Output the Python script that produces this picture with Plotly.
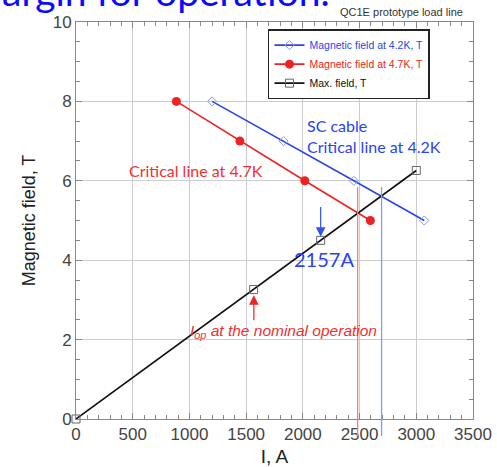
import plotly.graph_objects as go

# Data
cur_42 = [1200, 1830, 2450, 3070]
field_42 = [8, 7, 6, 5]
cur_47 = [885, 1445, 2017, 2595]
field_47 = [8, 7, 6, 5]
cur_max = [0, 1566, 2157, 3000]
field_max = [0, 3.26, 4.5, 6.26]
iop_42 = 2694
iop_47 = 2483
x_ticks = [0, 500, 1000, 1500, 2000, 2500, 3000, 3500]
y_ticks = [0, 2, 4, 6, 8, 10]

BLUE = "#2b45e6"
RED = "#ee2222"
TXT_BLUE = "#2a44f2"
TXT_RED = "#f03030"

fig = go.Figure()
fig.add_trace(go.Scatter(
    x=cur_42, y=field_42, mode="lines+markers",
    name='<span style="color:#2b45e6">Magnetic field at 4.2K, T</span>',
    line=dict(color=BLUE, width=1.6),
    marker=dict(symbol="diamond-open", size=7, color="#8899ee", line=dict(width=1)),
))
fig.add_trace(go.Scatter(
    x=cur_47, y=field_47, mode="lines+markers",
    name='<span style="color:#ee2222">Magnetic field at 4.7K, T</span>',
    line=dict(color=RED, width=1.6),
    marker=dict(symbol="circle", size=9, color=RED),
))
fig.add_trace(go.Scatter(
    x=cur_max, y=field_max, mode="lines+markers",
    name='<span style="color:#111111">Max. field, T</span>',
    line=dict(color="#111111", width=1.6),
    marker=dict(symbol="square-open", size=8, color="#666666", line=dict(width=1)),
    cliponaxis=False,
))

# vertical marker lines
for xv, col in [(iop_47, "#f08080"), (iop_42, "#8899ee")]:
    fig.add_shape(type="line", xref="x", yref="paper", x0=xv, x1=xv,
                  y0=-0.043, y1=0.584, line=dict(color=col, width=1.3), layer="above")

axis_common = dict(
    showline=True, linecolor="#888888", linewidth=1, mirror="allticks",
    ticks="inside", ticklen=6, tickcolor="#888888",
    showgrid=True, gridcolor="#cccccc", gridwidth=1,
    zeroline=False, automargin=False,
    tickfont=dict(family="Liberation Sans, Arial", size=17, color="#444444"),
)

fig.update_xaxes(
    range=[0, 3500], tickvals=x_ticks, **axis_common,
    minor=dict(dtick=100, ticks="inside", ticklen=4, tickcolor="#888888", showgrid=False),
    title=dict(text="I, A", font=dict(family="Liberation Sans, Arial", size=19, color="#222222"), standoff=6),
)
fig.update_yaxes(
    range=[0, 10], tickvals=y_ticks, **axis_common,
    minor=dict(dtick=0.5, ticks="inside", ticklen=4, tickcolor="#888888", showgrid=False),
    title=dict(text="Magnetic field, T", font=dict(family="Liberation Sans, Arial", size=18, color="#222222"), standoff=12),
)

# arrows
fig.add_annotation(x=2157, y=4.59, ax=2157, ay=5.38, xref="x", yref="y", axref="x", ayref="y",
                   showarrow=True, arrowhead=2, arrowsize=1.6, arrowwidth=1.2, arrowcolor="#3355ee", text="")
fig.add_annotation(x=1568, y=3.12, ax=1568, ay=2.45, xref="x", yref="y", axref="x", ayref="y",
                   showarrow=True, arrowhead=2, arrowsize=1.6, arrowwidth=1.2, arrowcolor=RED, text="")

# text annotations
fig.add_annotation(x=2019, y=7.12, xref="x", yref="y", xanchor="left", yanchor="middle", align="left",
                   text="SC cable<br>Critical line at 4.2K", showarrow=False,
                   font=dict(family="Lato", size=16, color=TXT_BLUE))
fig.add_annotation(x=447, y=6.27, xref="x", yref="y", xanchor="left", yanchor="middle",
                   text="Critical line at 4.7K", showarrow=False,
                   font=dict(family="Lato", size=16, color=TXT_RED))
fig.add_annotation(x=2182, y=4.03, xref="x", yref="y", xanchor="center", yanchor="middle",
                   text="2157A", showarrow=False,
                   font=dict(family="Lato", size=20, color=TXT_BLUE))
fig.add_annotation(x=987, y=2.2, xref="x", yref="y", xanchor="left", yanchor="middle",
                   text="<i>I</i><sub><i>op</i></sub><i> at the nominal operation</i>", showarrow=False,
                   font=dict(family="Liberation Sans, Arial", size=15.5, color=TXT_RED))

# slide overlay text
fig.add_annotation(x=-0.191, y=1.015, xref="paper", yref="paper", xanchor="left", yanchor="bottom",
                   text="argin for operation.", showarrow=False,
                   font=dict(family="Lato", size=39, color="#0a0aff"))
fig.add_annotation(x=0.66, y=1.025, xref="paper", yref="paper", xanchor="left", yanchor="middle",
                   text="QC1E prototype load line", showarrow=False,
                   font=dict(family="Liberation Sans, Arial", size=11, color="#333333"))
fig.add_annotation(x=0.962, y=-0.108, xref="paper", yref="paper", xanchor="left", yanchor="top",
                   text="13", showarrow=False,
                   font=dict(family="Lato", size=34, color="#0a0aff"))

fig.update_layout(
    width=497, height=467,
    margin=dict(l=76, r=24, t=22, b=48),
    plot_bgcolor="white", paper_bgcolor="white",
    showlegend=True,
    legend=dict(x=0.4836, y=0.982, xanchor="left", yanchor="top",
                bgcolor="white", bordercolor="#222222", borderwidth=1.5,
                font=dict(family="Liberation Sans, Arial", size=10.5),
                entrywidth=150, entrywidthmode="pixels",
                tracegroupgap=0),
)

fig.write_html("out.html")
